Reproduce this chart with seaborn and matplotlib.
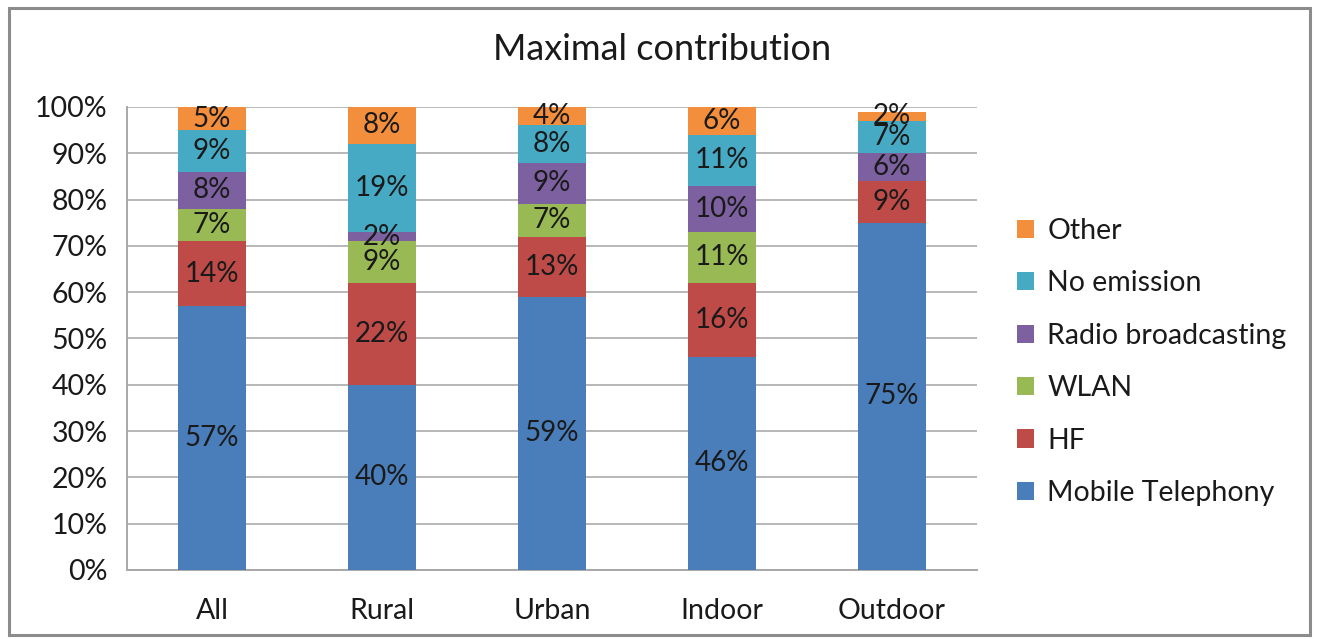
import numpy as np
import pandas as pd
import matplotlib
matplotlib.use("Agg")
import matplotlib.pyplot as plt
from matplotlib.patches import Patch, Rectangle
from matplotlib.ticker import FixedLocator, FuncFormatter
import seaborn as sns

# Share of each source in the maximal contribution (%)
categories = ["All", "Rural", "Urban", "Indoor", "Outdoor"]
mobile_telephony = [57, 40, 59, 46, 75]
hf = [14, 22, 13, 16, 9]
wlan = [7, 9, 7, 11, 0]
radio_broadcasting = [8, 2, 9, 10, 6]
no_emission = [9, 19, 8, 11, 7]
other = [5, 8, 4, 6, 2]

series_names = ["Mobile Telephony", "HF", "WLAN", "Radio broadcasting", "No emission", "Other"]
series_values = [mobile_telephony, hf, wlan, radio_broadcasting, no_emission, other]
series_colors = ["#4A7EBB", "#BE4B48", "#98B954", "#7D60A0", "#46AAC5", "#F28E3C"]

sns.set_style("white")
plt.rcParams["font.family"] = ["Lato", "DejaVu Sans"]

fig = plt.figure(figsize=(13.17, 6.39), dpi=100)
ax = fig.add_axes([0.0964, 0.108, 0.6454, 0.7246])

vals = np.array(series_values, dtype=float)
cum = np.cumsum(vals, axis=0)

# Stack by drawing cumulative heights from the top layer down
for i in range(len(series_names) - 1, -1, -1):
    df = pd.DataFrame({"category": categories, "height": cum[i]})
    sns.barplot(data=df, x="category", y="height", color=series_colors[i],
                width=0.405, saturation=1, ax=ax, zorder=3 + (len(series_names) - i),
                linewidth=0)

# Segment value labels
for i in range(len(series_names)):
    for j in range(len(categories)):
        v = vals[i, j]
        if v <= 0:
            continue
        y = cum[i, j] - v / 2
        ax.text(j, y, f"{int(v)}%", ha="center", va="center", fontsize=20,
                color="#1a1a1a", zorder=20)

ax.set_xlim(-0.5, 4.5)
ax.set_ylim(0, 100)
ax.set_yticks(np.arange(0, 101, 10))
ax.yaxis.set_major_formatter(FuncFormatter(lambda v, p: f"{int(v)}%"))
ax.yaxis.grid(True, color="#B8B8B8", linewidth=1.4, zorder=0)
ax.set_axisbelow(True)
ax.set_xlabel("")
ax.set_ylabel("")

for s in ["top", "right"]:
    ax.spines[s].set_visible(False)
ax.spines["left"].set_color("#A8A8A8")
ax.spines["left"].set_linewidth(1.4)
ax.spines["bottom"].set_color("#A8A8A8")
ax.spines["bottom"].set_linewidth(1.4)

ax.tick_params(axis="y", which="major", length=8, width=1.4, color="#A8A8A8",
               labelsize=20.5, labelcolor="#1a1a1a", pad=6)
ax.tick_params(axis="x", which="major", length=0, labelsize=20.5,
               labelcolor="#1a1a1a", pad=20)
ax.xaxis.set_minor_locator(FixedLocator(np.arange(-0.5, 5.0, 1.0)))
ax.tick_params(axis="x", which="minor", length=9, width=1.4, color="#A8A8A8",
               direction="out")

fig.text(0.503, 0.922, "Maximal contribution", ha="center", va="center",
         fontsize=26, color="#1a1a1a")

handles = [Patch(facecolor=series_colors[i], edgecolor="none", label=series_names[i])
           for i in range(len(series_names) - 1, -1, -1)]
fig.legend(handles=handles, loc="upper left", bbox_to_anchor=(0.753, 0.6995),
           frameon=False, fontsize=20.5, handlelength=0.6, handleheight=0.6,
           handletextpad=0.45, labelspacing=0.93, labelcolor="#1a1a1a")

# Chart border
fig.patches.append(Rectangle((0.007, 0.006), 0.988, 0.982, transform=fig.transFigure,
                             fill=False, edgecolor="#8C8C8C", linewidth=2.2))

fig.savefig("out.png", dpi=100)
